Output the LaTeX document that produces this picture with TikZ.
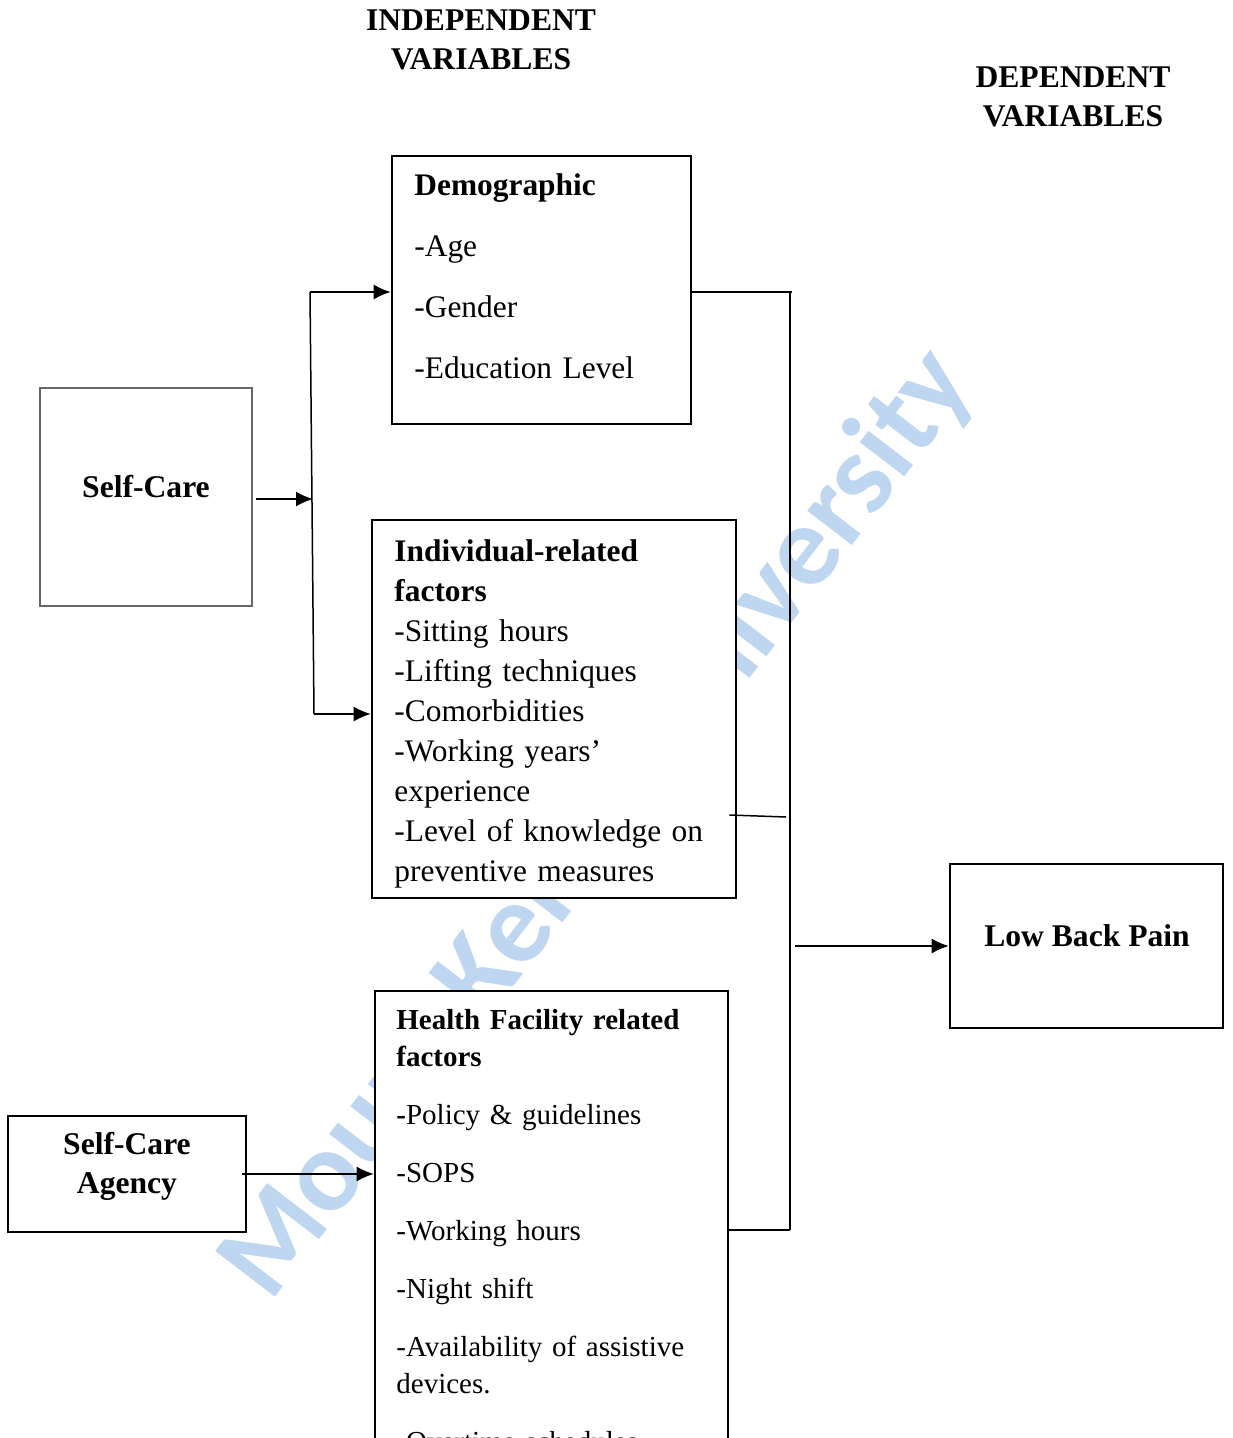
\documentclass[tikz,border=0pt]{standalone}
\usepackage{fontspec}
\setmainfont{Liberation Serif}
\newfontfamily\wmfont{Carlito}
\usetikzlibrary{arrows.meta}
\definecolor{wmblue}{RGB}{190,214,240}
\tikzset{
	fbox/.style={draw,fill=white,line width=1.3pt,inner sep=0pt},
	lbox/.style={draw,fill=white,line width=0.6pt,inner sep=0pt},
	txt/.style={anchor=base west,inner sep=0pt,align=left,text width=#1},
	bold/.style={inner sep=0pt,font=\bfseries\fontsize{15.8}{19.5}\selectfont},
	head/.style={bold,anchor=base,align=center,text width=150pt},
	conn/.style={line width=0.75pt},
	arr/.style={conn,-{Latex[length=8.5pt,width=7.5pt]}}
}
\begin{document}
\begin{tikzpicture}[x=0.5pt,y=-0.5pt,font=\fontsize{15.7}{20}\selectfont]
	\useasboundingbox (0,0) rectangle (1232,1438);
	\clip (0,0) rectangle (1232,1438);
	\node[text=wmblue,font=\wmfont\bfseries\fontsize{58}{58}\selectfont,rotate=52.5] (wm) at (598,825) {Mount Kenya University};
	\node[head] (indep) at (481,31) {INDEPENDENT\\VARIABLES};
	\node[head] (dep) at (1073,88) {DEPENDENT\\VARIABLES};
	\node[fbox,minimum width=149.5pt,minimum height=134pt] (demo) at (541.5,290) {};
	\node[txt=140pt] (demotxt) at (414,196) {\textbf{Demographic}\\[10.5pt]-Age\\[10.5pt]-Gender\\[10.5pt]-Education Level};
	\node[lbox,draw=black!60,minimum width=106pt,minimum height=109pt] (sc) at (146,497) {};
	\node[bold,anchor=base] (sctxt) at (146,497) {Self-Care};
	\node[fbox,minimum width=182pt,minimum height=189pt] (indiv) at (554,709) {};
	\node[txt=175pt] (indivtxt) at (394,561) {\textbf{Individual-related}\\\textbf{factors}\\-Sitting hours\\-Lifting techniques\\-Comorbidities\\-Working years’\\experience\\-Level of knowledge on\\preventive measures};
	\node[fbox,minimum width=176.5pt,minimum height=254.5pt] (hf) at (551.5,1245.5) {};
	\node[txt=170pt,font=\fontsize{14.5}{18.5}\selectfont] (hftxt) at (396,1029) {\textbf{Health Facility related}\\\textbf{factors}\\[10.5pt]\textbf{-}Policy \& guidelines\\[10.5pt]-SOPS\\[10.5pt]-Working hours\\[10.5pt]-Night shift\\[10.5pt]-Availability of assistive\\devices.\\[10.5pt]-Overtime schedules};
	\node[lbox,minimum width=119pt,minimum height=58pt] (agency) at (127,1174) {};
	\node[head] (agtxt) at (127,1154) {Self-Care\\Agency};
	\node[fbox,minimum width=136.5pt,minimum height=82pt] (lbp) at (1086.5,946) {};
	\node[bold,anchor=base] (lbptxt) at (1087,946) {Low Back Pain};
	\coordinate (lt) at (310,292);
	\coordinate (lb) at (314,714);
	\coordinate (lm) at (313,499);
	\draw[conn] (lt) -- (lb);
	\draw[arr] ([xshift=1.5pt]sc.east |- lm) -- (lm);
	\draw[arr] (lt) -- (lt -| demo.west);
	\draw[arr] (lb) -- (lb -| indiv.west);
	\draw[arr] ([xshift=-2.5pt]agency.east) -- (agency.east -| hf.west);
	\coordinate (rt) at (790,292);
	\coordinate (rb) at (790,1230);
	\coordinate (ri) at (786,817);
	\coordinate (ro) at (795,946);
	\draw[conn] (rt) -- (rb);
	\draw[conn] (demo.east |- rt) -- ([xshift=1pt]rt);
	\draw[conn] ([shift={(-8,106)}]indiv.east) -- (ri);
	\draw[conn] (hf.east |- rb) -- (rb);
	\draw[arr] (ro) -- (lbp.west);
\end{tikzpicture}
\end{document}
